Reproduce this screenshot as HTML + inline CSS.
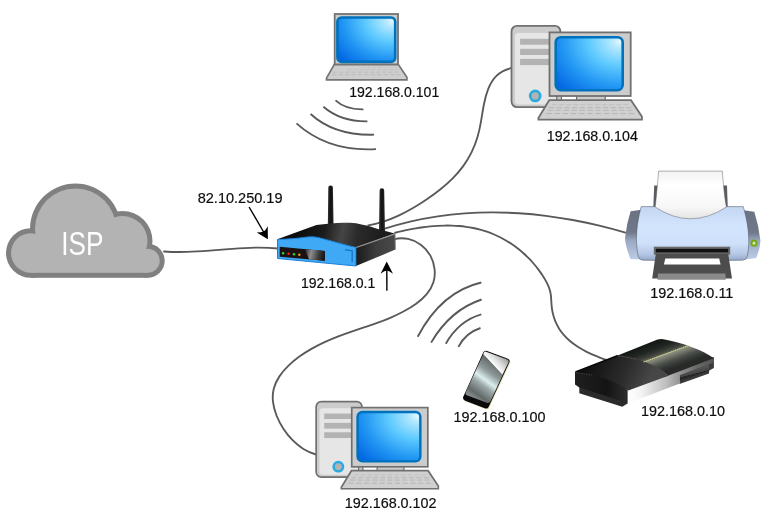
<!DOCTYPE html>
<html lang="en">
<head>
<meta charset="utf-8">
<title>Home network diagram</title>
<style>
html,body{margin:0;padding:0;background:#fff;}
body{width:766px;height:523px;overflow:hidden;}
svg{display:block;}
text{font-family:"Liberation Sans",sans-serif;}
.lbl{font-size:15.1px;fill:#0d0d0d;stroke:#0d0d0d;stroke-width:0.2px;}
.wire{fill:none;stroke:#595959;stroke-width:1.85;stroke-linecap:round;}
</style>
</head>
<body>
<svg width="766" height="523" viewBox="0 0 766 523">
<defs>

<radialGradient id="scr" cx="0.98" cy="0.06" r="1.25" fx="0.96" fy="0.08">
  <stop offset="0" stop-color="#e6f8ff"/>
  <stop offset="0.1" stop-color="#b4e8ff"/>
  <stop offset="0.38" stop-color="#5ecaff"/>
  <stop offset="0.7" stop-color="#2196f3"/>
  <stop offset="1" stop-color="#0468e4"/>
</radialGradient>
<g id="pc">
  <rect x="0.9" y="0.9" width="48.9" height="81.2" rx="5.5" fill="#ccc" stroke="#707070" stroke-width="1.8"/>
  <rect x="4.4" y="8" width="44.4" height="71.6" rx="3.5" fill="#e6e6e6"/>
  <rect x="9.5" y="13.8" width="32" height="5.9" fill="#b3b3b3"/>
  <rect x="9.5" y="23.8" width="32" height="6.2" fill="#b3b3b3"/>
  <rect x="9.5" y="33.9" width="32" height="6.2" fill="#b3b3b3"/>
  <circle cx="24.6" cy="70.9" r="5" fill="#b3b3b3" stroke="#29abe2" stroke-width="2.7"/>
  <rect x="46.2" y="70" width="4.6" height="6" fill="#ccc" stroke="#707070" stroke-width="1.3"/>
  <rect x="66" y="70" width="28.6" height="6" fill="#ccc" stroke="#707070" stroke-width="1.3"/>
  <rect x="38.9" y="7.4" width="81.2" height="63.6" fill="#ccc" stroke="#707070" stroke-width="1.8"/>
  <rect x="45.1" y="12.2" width="67" height="53" rx="5.2" fill="url(#scr)" stroke="#0071bc" stroke-width="2.6"/>
  <path d="M38.6,75.2 L120.4,75.2 L131.3,91.6 L131.3,94.6 L27.8,94.6 L27.8,93 Z" fill="#d0d0d0" stroke="#707070" stroke-width="1.8" stroke-linejoin="miter"/>
  <g stroke="#b3b3b3" fill="none">
    <path d="M41.5,79.6 H117.5" stroke-width="0.8" stroke-dasharray="4.7 2.43" stroke="#bdbdbd"/>
    <path d="M38.4,82.6 H120.6" stroke-width="0.9" stroke-dasharray="5.1 2.61"/>
    <path d="M37,85.2 H122" stroke-width="0.9" stroke-dasharray="5.3 2.67"/>
    <path d="M35.5,88.6 H123.5" stroke-width="1" stroke-dasharray="5.5 2.75"/>
  </g>
</g>
<g id="laptop">
  <rect x="9.1" y="1.4" width="63.3" height="50.6" fill="#ccc" stroke="#737373" stroke-width="1.8"/>
  <rect x="11.8" y="4.9" width="57.8" height="44.4" rx="4.3" fill="url(#scr)" stroke="#0071bc" stroke-width="2.6"/>
  <path d="M8.6,52 L72.8,52 L81.3,64.6 L81.3,67.3 L0.9,67.3 L0.9,65.6 Z" fill="#cecece" stroke="#747474" stroke-width="1.7"/>
  <g stroke="#b9b9b9" fill="none">
    <path d="M36,55 H72" stroke-width="0.6" stroke-dasharray="3.7 1.88" stroke="#c2c2c2"/>
    <path d="M22,57 H73" stroke-width="0.7" stroke-dasharray="3.9 2.06" stroke="#bfbfbf"/>
    <path d="M7.5,59.6 H74" stroke-width="0.8" stroke-dasharray="4.1 2.04"/>
    <path d="M6.5,62.2 H75" stroke-width="0.9" stroke-dasharray="4.3 2.17"/>
  </g>
</g>

<linearGradient id="phscr" gradientUnits="userSpaceOnUse" x1="505" y1="352" x2="467" y2="404">
  <stop offset="0.15" stop-color="#4a4f4f"/>
  <stop offset="0.4" stop-color="#8f9999"/>
  <stop offset="0.53" stop-color="#dceeee"/>
  <stop offset="0.62" stop-color="#9ca8a8"/>
  <stop offset="0.78" stop-color="#626969"/>
  <stop offset="0.92" stop-color="#9aa2a2"/>
  <stop offset="1" stop-color="#8a8f8f"/>
</linearGradient>
<linearGradient id="phrefl" gradientUnits="userSpaceOnUse" x1="492.1" y1="364" x2="506.5" y2="350.8">
  <stop offset="0" stop-color="#ffffff"/>
  <stop offset="0.3" stop-color="#e0e0e0"/>
  <stop offset="0.75" stop-color="#9c9c9c"/>
</linearGradient>


<linearGradient id="pbody" x1="0" y1="0" x2="0" y2="1">
  <stop offset="0" stop-color="#c3d6f2"/>
  <stop offset="0.35" stop-color="#d3e4fd"/>
  <stop offset="0.68" stop-color="#cfe0fa"/>
  <stop offset="0.88" stop-color="#b4c7e4"/>
  <stop offset="1" stop-color="#92a6c6"/>
</linearGradient>
<linearGradient id="pside" x1="0" y1="0" x2="0" y2="1">
  <stop offset="0" stop-color="#6b7282"/>
  <stop offset="0.45" stop-color="#707889"/>
  <stop offset="0.62" stop-color="#9aa9c2"/>
  <stop offset="1" stop-color="#bccde8"/>
</linearGradient>
<linearGradient id="ppaper" x1="0" y1="0" x2="0" y2="1">
  <stop offset="0" stop-color="#f2f2f2"/>
  <stop offset="0.3" stop-color="#ffffff"/>
  <stop offset="0.75" stop-color="#f7f7f7"/>
  <stop offset="1" stop-color="#e4e4e4"/>
</linearGradient>


<linearGradient id="s3left" gradientUnits="userSpaceOnUse" x1="586" y1="362" x2="646" y2="388">
  <stop offset="0" stop-color="#0e0e0e"/>
  <stop offset="0.25" stop-color="#1a1a1a"/>
  <stop offset="0.6" stop-color="#2b2b2b"/>
  <stop offset="1" stop-color="#474747"/>
</linearGradient>
<linearGradient id="s3band" gradientUnits="userSpaceOnUse" x1="661.6" y1="340.5" x2="671.9" y2="368.7">
  <stop offset="0" stop-color="#161a17"/>
  <stop offset="0.2" stop-color="#232724"/>
  <stop offset="0.367" stop-color="#3f433c"/>
  <stop offset="0.45" stop-color="#5d6155"/>
  <stop offset="0.47" stop-color="#93967f"/>
  <stop offset="0.6" stop-color="#70746a"/>
  <stop offset="0.733" stop-color="#4c504a"/>
  <stop offset="0.867" stop-color="#363a36"/>
  <stop offset="1" stop-color="#282a28"/>
</linearGradient>
<linearGradient id="s3silver" gradientUnits="userSpaceOnUse" x1="628" y1="0" x2="714" y2="0">
  <stop offset="0" stop-color="#ffffff"/>
  <stop offset="0.15" stop-color="#f4f4f4"/>
  <stop offset="0.45" stop-color="#bdbdbd"/>
  <stop offset="0.62" stop-color="#8e8e8e"/>
  <stop offset="0.8" stop-color="#6a6a6a"/>
  <stop offset="1" stop-color="#545454"/>
</linearGradient>
<linearGradient id="s3front" gradientUnits="userSpaceOnUse" x1="575" y1="0" x2="628" y2="0">
  <stop offset="0" stop-color="#1f1f1f"/>
  <stop offset="0.6" stop-color="#141414"/>
  <stop offset="1" stop-color="#2e2e2e"/>
</linearGradient>
<linearGradient id="s3rec" gradientUnits="userSpaceOnUse" x1="694" y1="369" x2="696" y2="377">
  <stop offset="0" stop-color="#565656"/>
  <stop offset="0.55" stop-color="#444"/>
  <stop offset="0.6" stop-color="#262626"/>
  <stop offset="1" stop-color="#2e2e2e"/>
</linearGradient>


<linearGradient id="rtop" gradientUnits="userSpaceOnUse" x1="300" y1="228" x2="380" y2="244">
  <stop offset="0" stop-color="#0d0d0d"/>
  <stop offset="0.3" stop-color="#1c1c1c"/>
  <stop offset="0.52" stop-color="#454545"/>
  <stop offset="0.7" stop-color="#2b2b2b"/>
  <stop offset="1" stop-color="#1c1c1c"/>
</linearGradient>
<linearGradient id="rside" gradientUnits="userSpaceOnUse" x1="356" y1="0" x2="396" y2="0">
  <stop offset="0" stop-color="#1a1a1a"/>
  <stop offset="0.5" stop-color="#3d3d3d"/>
  <stop offset="1" stop-color="#4a4a4a"/>
</linearGradient>
<linearGradient id="rpanel" gradientUnits="userSpaceOnUse" x1="299" y1="252" x2="325" y2="258">
  <stop offset="0" stop-color="#1a1110"/>
  <stop offset="0.2" stop-color="#2b2b2b"/>
  <stop offset="0.45" stop-color="#8c8c8c"/>
  <stop offset="0.75" stop-color="#3a3a3a"/>
  <stop offset="1" stop-color="#111"/>
</linearGradient>
<linearGradient id="rant" x1="0" y1="0" x2="1" y2="0">
  <stop offset="0" stop-color="#333"/>
  <stop offset="0.5" stop-color="#111"/>
  <stop offset="1" stop-color="#2a2a2a"/>
</linearGradient>

</defs>
<rect width="766" height="523" fill="#fff"/>
<path class="wire" d="M164.00,251.50 C171.63,252.06 179.24,252.13 186.84,251.92 C194.44,251.70 202.04,251.20 209.62,250.62 C217.21,250.03 224.79,249.37 232.38,248.81 C239.97,248.26 247.56,247.82 255.16,247.70 C262.76,247.58 270.37,247.78 278.00,248.50"/>
<path class="wire" d="M368.21,225.30 C373.65,224.31 378.94,222.95 384.08,221.26 C389.22,219.58 394.22,217.57 399.11,215.30 C403.99,213.03 408.76,210.49 413.44,207.75 C418.12,205.01 422.71,202.06 427.23,198.96 C431.75,195.86 436.21,192.62 440.49,189.18 C444.76,185.75 448.87,182.13 452.69,178.29 C456.52,174.46 460.06,170.40 463.21,166.09 C466.37,161.77 469.14,157.20 471.51,152.40 C473.88,147.60 475.85,142.57 477.42,137.32 C478.99,132.08 480.10,126.59 481.05,121.05 C482.00,115.50 482.83,109.91 483.90,104.48 C484.97,99.05 486.29,93.78 488.25,88.90 C490.20,84.01 492.79,79.53 496.44,75.92 C500.10,72.31 504.82,69.58 511.04,68.21"/>
<path class="wire" d="M384.84,228.71 C393.52,225.90 402.28,223.49 411.10,221.44 C419.93,219.40 428.82,217.72 437.75,216.39 C446.68,215.06 455.66,214.08 464.67,213.42 C473.67,212.77 482.70,212.44 491.74,212.42 C500.78,212.40 509.82,212.69 518.86,213.26 C527.89,213.84 536.91,214.70 545.90,215.83 C554.88,216.96 563.84,218.35 572.75,219.99 C581.66,221.63 590.51,223.51 599.30,225.63 C608.08,227.74 616.80,230.07 625.43,232.61"/>
<path class="wire" d="M395.09,232.75 C397.32,232.18 399.58,231.63 401.87,231.11 C404.15,230.58 406.46,230.09 408.79,229.62 C411.11,229.16 413.46,228.72 415.82,228.33 C418.18,227.93 420.55,227.57 422.93,227.25 C425.32,226.92 427.71,226.64 430.11,226.41 C432.52,226.17 434.92,225.98 437.33,225.84 C439.74,225.70 442.16,225.60 444.57,225.57 C446.98,225.53 449.39,225.54 451.79,225.62 C454.20,225.69 456.60,225.82 458.98,226.02 C461.37,226.21 463.75,226.47 466.12,226.80 C468.48,227.12 470.84,227.52 473.17,227.98 C475.51,228.45 477.82,228.98 480.12,229.60 C482.41,230.21 484.69,230.90 486.94,231.67 C489.18,232.45 491.41,233.30 493.60,234.23 C495.79,235.16 497.95,236.17 500.08,237.25 C502.21,238.33 504.31,239.48 506.36,240.70 C508.42,241.92 510.43,243.22 512.41,244.57 C514.38,245.93 516.32,247.35 518.20,248.84 C520.08,250.32 521.92,251.87 523.71,253.48 C525.49,255.08 527.23,256.74 528.91,258.46 C530.59,260.17 532.21,261.94 533.77,263.76 C535.34,265.58 536.84,267.45 538.28,269.37 C539.72,271.28 541.09,273.25 542.40,275.25 C543.71,277.25 544.96,279.30 546.10,281.39 C547.25,283.48 548.29,285.61 549.10,287.82 C549.91,290.02 550.48,292.30 550.79,294.65 C551.11,296.99 551.22,299.40 551.35,301.81 C551.48,304.23 551.65,306.65 552.01,309.02 C552.36,311.40 552.87,313.75 553.52,316.04 C554.17,318.33 554.98,320.57 555.94,322.72 C556.90,324.88 558.01,326.96 559.28,328.94 C560.55,330.92 561.97,332.81 563.53,334.60 C565.08,336.39 566.76,338.09 568.54,339.70 C570.32,341.31 572.21,342.83 574.17,344.26 C576.14,345.70 578.18,347.04 580.27,348.31 C582.36,349.58 584.51,350.76 586.68,351.87 C588.86,352.98 591.06,354.00 593.26,354.96 C595.46,355.91 597.66,356.79 599.84,357.60 C602.02,358.40 604.18,359.14 606.29,359.81"/>
<path class="wire" d="M393.85,239.35 C398.57,237.96 403.47,237.90 408.16,238.92 C412.84,239.93 417.30,242.01 421.14,244.89 C424.98,247.77 428.14,251.46 430.40,255.63 C432.67,259.79 434.08,264.41 434.58,269.04 C435.08,273.67 434.68,278.33 433.32,282.58 C431.96,286.83 429.66,290.69 426.70,294.20 C423.75,297.72 420.14,300.89 416.17,303.76 C412.21,306.63 407.88,309.21 403.49,311.52 C399.10,313.84 394.69,315.90 390.29,317.78 C385.90,319.65 381.51,321.34 377.12,322.93 C372.74,324.52 368.35,326.00 363.97,327.47 C359.59,328.93 355.21,330.37 350.83,331.86 C346.45,333.36 342.07,334.91 337.69,336.60 C333.31,338.29 328.94,340.11 324.62,342.09 C320.30,344.08 316.03,346.23 311.86,348.60 C307.70,350.97 303.63,353.54 299.71,356.37 C295.79,359.20 291.99,362.29 288.53,365.63 C285.07,368.96 281.95,372.55 279.42,376.37 C276.89,380.19 274.94,384.25 273.82,388.52 C272.70,392.80 272.47,397.32 273.00,401.92 C273.52,406.53 274.80,411.20 276.61,415.76 C278.43,420.32 280.80,424.77 283.53,428.91 C286.25,433.04 289.31,436.86 292.61,440.22 C295.92,443.59 299.51,446.52 303.41,448.92 C307.31,451.33 311.51,453.22 316.04,454.51"/>
<path class="wire" style="stroke-linecap:butt" d="M335.5,100.4 Q345.9,109.8 363.4,109.3"/>
<path class="wire" style="stroke-linecap:butt" d="M323.4,106.8 Q340.6,121.7 367.4,121.4"/>
<path class="wire" style="stroke-linecap:butt" d="M310.6,114.0 Q334.2,135.7 374.1,134.7"/>
<path class="wire" style="stroke-linecap:butt" d="M296.5,123.4 Q328.0,151.9 376.0,149.1"/>
<path class="wire" style="stroke-linecap:butt" d="M417.7,336.7 Q441.5,291.6 481.3,282.5"/>
<path class="wire" style="stroke-linecap:butt" d="M431.1,342.6 Q450.2,309.9 481.6,299.5"/>
<path class="wire" style="stroke-linecap:butt" d="M445.8,343.7 Q458.8,320.8 481.3,314.4"/>
<path class="wire" style="stroke-linecap:butt" d="M458.4,346.9 Q465.6,332.8 480.5,328.0"/>
<path d="M249.1,207 L264.5,233.5" stroke="#000" stroke-width="1.4" fill="none"/>
<path d="M267.9,239.3 L256.7,232.6 Q261.6,232.6 263.6,231.6 Q265.6,230.4 267.7,226.2 Z" fill="#000"/>
<path d="M386.9,290.8 L386.8,268" stroke="#000" stroke-width="1.4" fill="none"/>
<path d="M386.7,261.6 L393,273.7 Q389.4,271 386.7,270.6 Q384,271 380.6,273.7 Z" fill="#000"/>

<g fill="#808080"><circle cx="75.5" cy="229.0" r="45.5"/><circle cx="122.5" cy="241.0" r="30.0"/><circle cx="147.7" cy="260.8" r="17.0"/><circle cx="30.8" cy="253.0" r="24.8"/><rect x="31.0" y="250.0" width="117.0" height="27.8"/></g>
<g fill="#b3b3b3"><circle cx="75.5" cy="229.0" r="40.5"/><circle cx="122.5" cy="241.0" r="25.0"/><circle cx="147.7" cy="260.8" r="12.0"/><circle cx="30.8" cy="253.0" r="19.8"/><rect x="31.0" y="250.0" width="117.0" height="22.8"/></g>
<text style="filter:grayscale(1)" x="61.2" y="254.8" font-size="34" fill="#fff" textLength="42.2" lengthAdjust="spacingAndGlyphs">ISP</text>


<g id="router">
  <path d="M328.3,187.6 Q328.3,185.4 330.6,185.4 Q332.9,185.4 332.9,187.6 L333.6,228 L327.8,228 Z" fill="url(#rant)"/>
  <path d="M379.6,190.5 Q379.6,188.3 381.9,188.3 Q384.2,188.3 384.2,190.5 L385,233 L379,233 Z" fill="url(#rant)"/>
  <path d="M277.3,239.2 L316.4,225.1 C328,223.2 340,222.2 350,222.8 C358,223.2 366,225.2 379.6,229.4 L394.8,233.6 L355.9,247.6 Z" fill="url(#rtop)"/>
  <path d="M355.9,247.3 L395,233.6 L395.4,249.6 L355.9,266.1 Z" fill="url(#rside)"/>
  <path d="M356.2,247.5 L394.8,234" stroke="#9a9a9a" stroke-width="1.2" fill="none"/>
  <path d="M395,234 L395.3,249.4" stroke="#777" stroke-width="0.8" fill="none"/>
  <path d="M277.5,239.4 C283,239.4 294,238.8 302.6,237.6 C308,236.8 312,236.6 316,237.2 C324,238.4 338,243.4 355.9,247.4 L355.9,266 L277.5,258.5 Z" fill="#3fa9f5" stroke="#1a80d8" stroke-width="1" stroke-linejoin="round"/>
  <path d="M279.7,246.7 L324.8,251 L324.8,260.8 L279.7,256.7 Z" fill="#1a1110"/>
  <path d="M305,249.1 L324.8,251 L324.8,260.8 L309,259.4 Z" fill="url(#rpanel)"/>
  <circle cx="283.1" cy="253.3" r="1.2" fill="#1fe01f"/>
  <circle cx="288.6" cy="253.8" r="1.2" fill="#ff1d1d"/>
  <circle cx="294" cy="254.3" r="1.2" fill="#1fe01f"/>
  <circle cx="299.3" cy="254.8" r="1.2" fill="#ff931e"/>
  <path d="M345.2,249.8 L352.2,250.8 L352.2,262" stroke="#1976c8" stroke-width="1.4" fill="none"/>
</g>


<use href="#pc" transform="translate(510.6,25)"/>
<use href="#pc" transform="translate(315.3,400.7) scale(0.937,0.931)"/>
<use href="#laptop" transform="translate(325.6,12.6)"/>


<g id="printer">
  <path d="M654.2,185.6 L727,185.6 L727.8,210 L653.2,210 Z" fill="#595c63"/>
  <path d="M630.6,211.2 L641.5,209.8 L641,259.6 L630.4,259 Q625.4,246 625,238.4 Q626.4,224 630.6,211.2 Z" fill="url(#pside)"/>
  <path d="M754.3,211.8 L743.4,210.2 L744,259.8 L756.2,258 Q760.2,248 760.4,240.4 Q758.6,225 754.3,211.8 Z" fill="url(#pside)"/>
  <path d="M641.2,206.6 L743.3,206.6 C747.8,222 750.8,240 747.2,256.6 Q746.2,260 742.6,260.2 Q692.4,261.2 642.9,260.2 Q639.3,260 638.3,256.6 C634.6,240 636.9,222 641.2,206.6 Z" fill="url(#pbody)" stroke="#3a3f4a" stroke-width="0.45"/>
  <path d="M658.6,171.1 L722.3,171.1 C723.2,182 724.2,196 726.4,207 Q690.4,230.6 655.2,207 C656.6,196 657.6,182 658.6,171.1 Z" fill="url(#ppaper)" stroke="#555" stroke-width="0.45"/>
  <circle cx="754" cy="243.2" r="2.6" fill="#d6e4b0" stroke="#74a815" stroke-width="2"/>
  <rect x="653.8" y="246.7" width="76.4" height="8" fill="#6a6a6a"/>
  <rect x="655.8" y="248.8" width="72.4" height="3.6" fill="#111"/>
  <path d="M655.8,253.8 L728.2,253.8 L732,278.6 L652.2,278.6 Z" fill="#4d4d4d"/>
  <path d="M665.3,258.6 L719.2,258.6 L720.6,264.6 L663.9,264.6 Z" fill="#fff"/>
  <path d="M658,273.4 L725.4,273.4 L725.8,279.8 L657.6,279.8 Z" fill="#8a8a8a"/>
</g>


<g id="ps3">
  <path d="M579.3,386 L579.3,393.2 L622.3,406.8 L628,403.2 L628,395 Z" fill="#2b2b2b"/>
  <path d="M575,372.2 L575,384.6 L579.3,387.4 L622.4,401.2 L628.3,398 L628.3,390.3 L610,370 Z" fill="url(#s3front)"/>
  <path d="M679.6,370 L712.8,357.2 L713.9,358.2 L713.9,368 L709.2,370.6 L709,373.4 L679.6,384 Z" fill="#3a3a3a"/>
  <path d="M679.6,375 L709,364.4 L709,371 L679.6,381.2 Z" fill="url(#s3rec)"/>
  <path d="M627.6,389 L679.8,369.8 L679.8,383.6 L627.6,403.4 Z" fill="url(#s3silver)"/>
  <path d="M679.6,369.8 L713.8,357 L713.9,362.4 L679.6,375.2 Z" fill="url(#s3silver)"/>
  <path d="M612,357.8 L657.5,339.6 Q660.5,338.4 663.5,339.2 C682,342.5 703,350 713.8,358.2 L664,377.2 L640,366 Z" fill="url(#s3band)"/>
  <path d="M575,372.2 L617.3,355.8 C628,356.8 636,358.8 644.4,361.8 C654,365 662,369.5 669,375.4 L628.3,390.6 C617,380.5 596,375 575,372.2 Z" fill="url(#s3left)"/>
  <path d="M575.4,372 L618,355.4" stroke="#0a0a0a" stroke-width="1.6" fill="none"/>
  <path d="M643.6,362 L689.2,345.2" stroke="#e2e29c" stroke-width="0.9" stroke-dasharray="1.7 0.5" fill="none"/>
  <path d="M617.3,355.9 C624,356.4 630,357.6 636,359.2" stroke="#7a7a7a" stroke-width="0.6" stroke-dasharray="1.2 0.8" fill="none"/>
  <path d="M576,372.6 C582,373.3 588,374.2 593,375.2" stroke="#6a6a6a" stroke-width="0.5" stroke-dasharray="1.5 1" fill="none"/>
</g>


<g id="phone">
  <path d="M486.00,354.02 L506.32,361.41 L485.86,405.33 L466.30,397.74 Z" fill="#e6e6bc" stroke="#e6e6bc" stroke-width="6.4" stroke-linejoin="round" transform="translate(0.7,0.8)"/>
  <path d="M486.00,354.02 L506.32,361.41 L485.86,405.33 L466.30,397.74 Z" fill="#0a0a0a" stroke="#0a0a0a" stroke-width="6.4" stroke-linejoin="round"/>
  <path d="M486.25,354.65 L505.65,361.71 L487.86,400.12 L468.53,392.91 Z" fill="url(#phscr)" stroke="url(#phscr)" stroke-width="5.7" stroke-linejoin="round"/>
  <path d="M485.2,351.6 L507.4,359.8 Q509.2,360.8 508.4,362.6 L502.4,374.6 L483.4,354.2 Q484,351.4 485.2,351.6 Z" fill="url(#phrefl)"/>
</g>

<g style="filter:grayscale(1)">
<text class="lbl" x="349.2" y="96.7" textLength="90.1" lengthAdjust="spacingAndGlyphs">192.168.0.101</text>
<text class="lbl" x="546.8" y="140.5" textLength="91.0" lengthAdjust="spacingAndGlyphs">192.168.0.104</text>
<text class="lbl" x="197.7" y="202.5" textLength="84.8" lengthAdjust="spacingAndGlyphs">82.10.250.19</text>
<text class="lbl" x="301.0" y="287.9" textLength="74.2" lengthAdjust="spacingAndGlyphs">192.168.0.1</text>
<text class="lbl" x="650.2" y="298.2" textLength="83.2" lengthAdjust="spacingAndGlyphs">192.168.0.11</text>
<text class="lbl" x="641.1" y="415.6" textLength="84.0" lengthAdjust="spacingAndGlyphs">192.168.0.10</text>
<text class="lbl" x="453.5" y="422.2" textLength="92.0" lengthAdjust="spacingAndGlyphs">192.168.0.100</text>
<text class="lbl" x="344.7" y="507.6" textLength="91.9" lengthAdjust="spacingAndGlyphs">192.168.0.102</text>
</g>

</svg>
</body>
</html>
